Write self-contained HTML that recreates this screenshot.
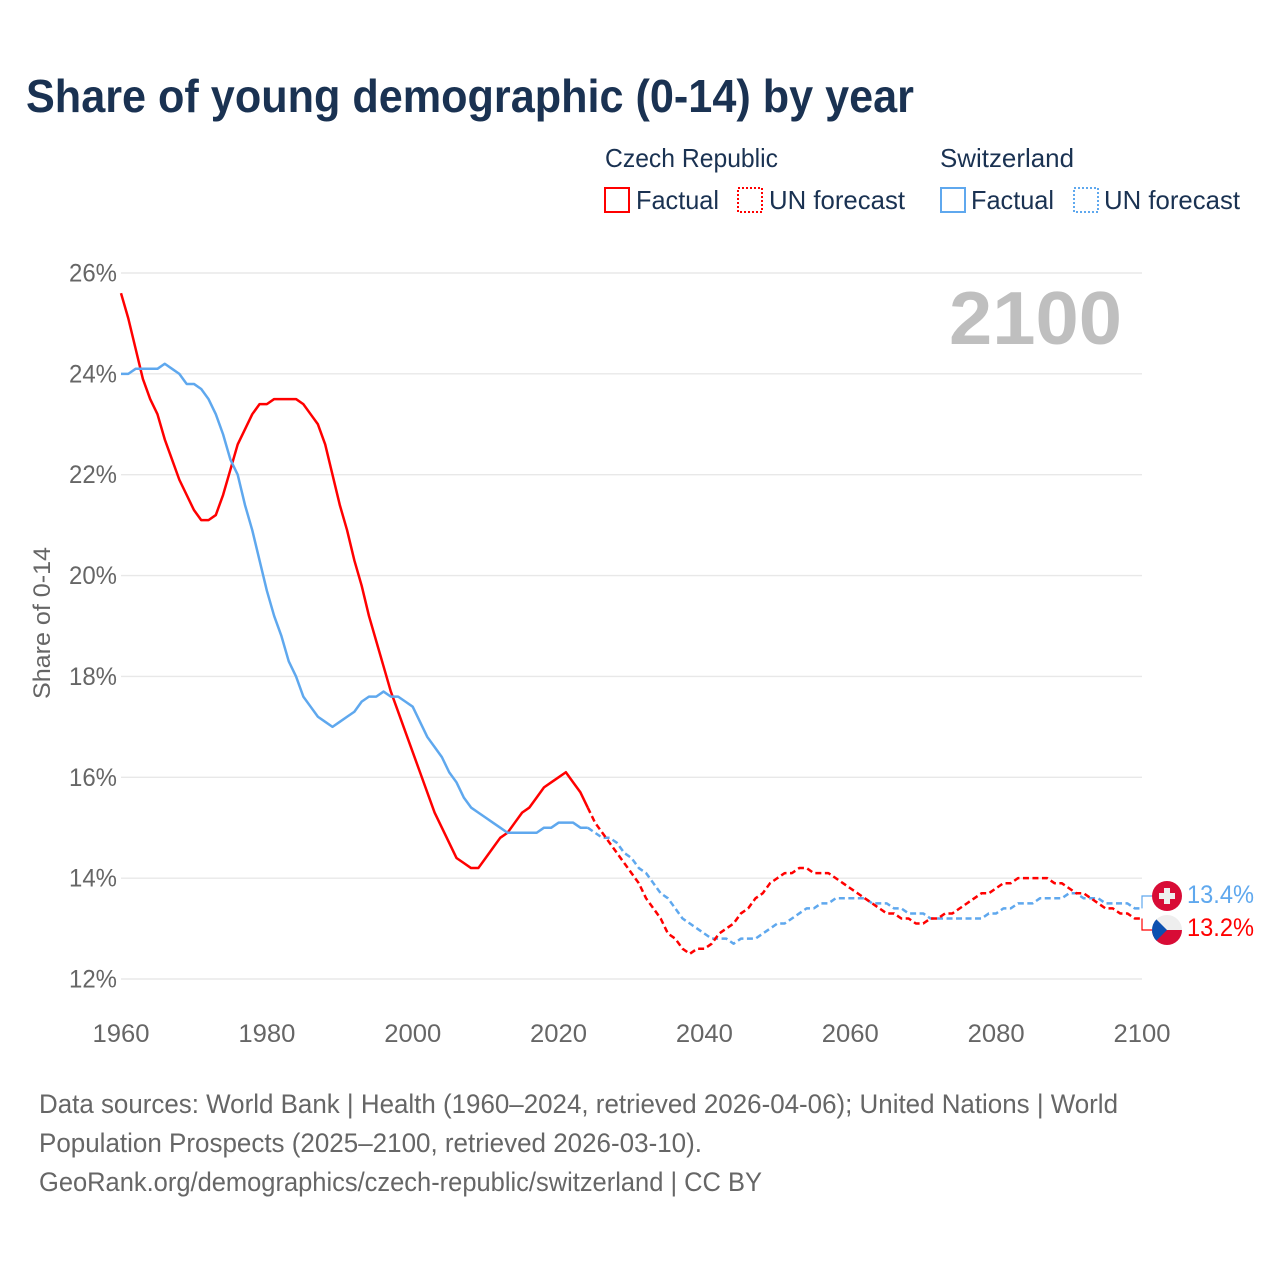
<!DOCTYPE html>
<html lang="en">
<head>
<meta charset="utf-8">
<title>Share of young demographic (0-14) by year</title>
<style>
html,body{margin:0;padding:0;background:#fff;}
svg{display:block;font-family:"Liberation Sans",Arial,sans-serif;}
</style>
</head>
<body>
<svg id="chart" width="1280" height="1280" viewBox="0 0 1280 1280" xmlns="http://www.w3.org/2000/svg">
  <rect width="1280" height="1280" fill="#ffffff"/>
  <defs>
    <clipPath id="flag-clip-cz"><circle cx="1167" cy="930" r="15"/></clipPath>
  </defs>

  <text x="26" y="112" font-size="46" font-weight="700" fill="#1a3252" textLength="888" lengthAdjust="spacingAndGlyphs">Share of young demographic (0-14) by year</text>

  <g fill="#1a3252" font-size="26">
    <text x="605" y="167" textLength="173" lengthAdjust="spacingAndGlyphs">Czech Republic</text>
    <text x="940" y="167" textLength="134" lengthAdjust="spacingAndGlyphs">Switzerland</text>
    <rect x="605" y="188" width="24" height="24" fill="none" stroke="#ff0000" stroke-width="2"/>
    <text x="636" y="209" textLength="83" lengthAdjust="spacingAndGlyphs">Factual</text>
    <rect x="738" y="188" width="24" height="24" fill="none" stroke="#ff0000" stroke-width="2" stroke-dasharray="2 2"/>
    <text x="769" y="209" textLength="136" lengthAdjust="spacingAndGlyphs">UN forecast</text>
    <rect x="941" y="188" width="24" height="24" fill="none" stroke="#5fa8ee" stroke-width="2"/>
    <text x="971" y="209" textLength="83" lengthAdjust="spacingAndGlyphs">Factual</text>
    <rect x="1074" y="188" width="24" height="24" fill="none" stroke="#5fa8ee" stroke-width="2" stroke-dasharray="2 2"/>
    <text x="1104" y="209" textLength="136" lengthAdjust="spacingAndGlyphs">UN forecast</text>
  </g>

  <g id="grid"></g>
  <g id="y-ticks"></g>
  <g id="x-ticks"></g>

  <text transform="translate(50,623) rotate(-90)" text-anchor="middle" font-size="24" fill="#666666" textLength="152" lengthAdjust="spacingAndGlyphs">Share of 0-14</text>

  <text id="year-label" x="949" y="344" font-size="75" font-weight="700" fill="#bfbfbf" textLength="173" lengthAdjust="spacingAndGlyphs">2100</text>

  <g id="series" fill="none" stroke-width="2.5" stroke-linejoin="round"></g>
  <g id="end-labels"></g>

  <g>
    <circle cx="1167" cy="896" r="15" fill="#d80c36"/>
    <rect x="1159" y="893" width="16" height="6" fill="#eeeeee"/>
    <rect x="1164" y="888" width="6" height="16" fill="#eeeeee"/>
  </g>
  <g clip-path="url(#flag-clip-cz)">
    <rect x="1152" y="915" width="30" height="15" fill="#eeeeee"/>
    <rect x="1152" y="930" width="30" height="15" fill="#d80c36"/>
    <polygon points="1152,915 1167,930 1152,945" fill="#0c50b0"/>
  </g>

  <g font-size="26.5" fill="#666666">
    <text x="39" y="1113" textLength="1079" lengthAdjust="spacingAndGlyphs">Data sources: World Bank | Health (1960–2024, retrieved 2026-04-06); United Nations | World</text>
    <text x="39" y="1152" textLength="663" lengthAdjust="spacingAndGlyphs">Population Prospects (2025–2100, retrieved 2026-03-10).</text>
    <text x="39" y="1191" textLength="723" lengthAdjust="spacingAndGlyphs">GeoRank.org/demographics/czech-republic/switzerland | CC BY</text>
  </g>
</svg>

<script>
const yTickValues = [12, 14, 16, 18, 20, 22, 24, 26];
const yTickLabels = ["12%", "14%", "16%", "18%", "20%", "22%", "24%", "26%"];
const xTickValues = [1960, 1980, 2000, 2020, 2040, 2060, 2080, 2100];
const xTickLabels = ["1960", "1980", "2000", "2020", "2040", "2060", "2080", "2100"];

const factualStartYear = 1960;
const forecastStartYear = 2024;

const czechFactual = [
  25.6,25.1,24.5,23.9,23.5,23.2,22.7,22.3,21.9,21.6,
  21.3,21.1,21.1,21.2,21.6,22.1,22.6,22.9,23.2,23.4,
  23.4,23.5,23.5,23.5,23.5,23.4,23.2,23.0,22.6,22.0,
  21.4,20.9,20.3,19.8,19.2,18.7,18.2,17.7,17.3,16.9,
  16.5,16.1,15.7,15.3,15.0,14.7,14.4,14.3,14.2,14.2,
  14.4,14.6,14.8,14.9,15.1,15.3,15.4,15.6,15.8,15.9,
  16.0,16.1,15.9,15.7,15.4
];
const swissFactual = [
  24.0,24.0,24.1,24.1,24.1,24.1,24.2,24.1,24.0,23.8,
  23.8,23.7,23.5,23.2,22.8,22.3,22.0,21.4,20.9,20.3,
  19.7,19.2,18.8,18.3,18.0,17.6,17.4,17.2,17.1,17.0,
  17.1,17.2,17.3,17.5,17.6,17.6,17.7,17.6,17.6,17.5,
  17.4,17.1,16.8,16.6,16.4,16.1,15.9,15.6,15.4,15.3,
  15.2,15.1,15.0,14.9,14.9,14.9,14.9,14.9,15.0,15.0,
  15.1,15.1,15.1,15.0,15.0
];
const czechForecast = [
  15.4,15.1,14.9,14.7,14.5,14.3,14.1,13.9,13.6,13.4,
  13.2,12.9,12.8,12.6,12.5,12.6,12.6,12.7,12.9,13.0,
  13.1,13.3,13.4,13.6,13.7,13.9,14.0,14.1,14.1,14.2,
  14.2,14.1,14.1,14.1,14.0,13.9,13.8,13.7,13.6,13.5,
  13.4,13.3,13.3,13.2,13.2,13.1,13.1,13.2,13.2,13.3,
  13.3,13.4,13.5,13.6,13.7,13.7,13.8,13.9,13.9,14.0,
  14.0,14.0,14.0,14.0,13.9,13.9,13.8,13.7,13.7,13.6,
  13.5,13.4,13.4,13.3,13.3,13.2,13.2
];
const swissForecast = [
  15.0,14.9,14.8,14.8,14.7,14.5,14.4,14.2,14.1,13.9,
  13.7,13.6,13.4,13.2,13.1,13.0,12.9,12.8,12.8,12.8,
  12.7,12.8,12.8,12.8,12.9,13.0,13.1,13.1,13.2,13.3,
  13.4,13.4,13.5,13.5,13.6,13.6,13.6,13.6,13.6,13.5,
  13.5,13.5,13.4,13.4,13.3,13.3,13.3,13.2,13.2,13.2,
  13.2,13.2,13.2,13.2,13.2,13.3,13.3,13.4,13.4,13.5,
  13.5,13.5,13.6,13.6,13.6,13.6,13.7,13.7,13.6,13.6,
  13.6,13.5,13.5,13.5,13.5,13.4,13.4
];

const SVG_NS = "http://www.w3.org/2000/svg";
const plotLeft = 121, plotRight = 1142, plotTop = 273, plotBottom = 979;
const colorCzech = "#ff0000", colorSwiss = "#5fa8ee";

function xScale(year) {
  return plotLeft + (year - 1960) / (2100 - 1960) * (plotRight - plotLeft);
}
function yScale(value) {
  return plotBottom - (value - 12) / (26 - 12) * (plotBottom - plotTop);
}
function linePath(values, startYear) {
  return values.map(function (v, i) {
    return (i ? "L" : "M") + xScale(startYear + i).toFixed(2) + " " + yScale(v).toFixed(2);
  }).join("");
}
function make(tag, parentId, attrs, text) {
  const el = document.createElementNS(SVG_NS, tag);
  Object.keys(attrs).forEach(function (k) { el.setAttribute(k, attrs[k]); });
  if (text !== undefined) el.textContent = text;
  document.getElementById(parentId).appendChild(el);
  return el;
}

yTickValues.forEach(function (v, i) {
  const line = make("line", "grid", { x1: plotLeft, x2: plotRight, y1: yScale(v), y2: yScale(v), stroke: "#e8e8e8", "stroke-width": 1.4 });
  
  
  const label = make("text", "y-ticks", { x: 69, y: yScale(v) + 8.5, "font-size": 25, fill: "#666666", textLength: 48, lengthAdjust: "spacingAndGlyphs" }, yTickLabels[i]);
  
  
});

xTickValues.forEach(function (year, i) {
  const label = make("text", "x-ticks", { x: xScale(year) - 28.5, y: 1042, "font-size": 25, fill: "#666666", textLength: 57, lengthAdjust: "spacingAndGlyphs" }, xTickLabels[i]);
  
  
});

const czechFactualLine = make("path", "series", { d: linePath(czechFactual, factualStartYear), stroke: colorCzech });



const swissFactualLine = make("path", "series", { d: linePath(swissFactual, factualStartYear), stroke: colorSwiss });



const swissForecastLine = make("path", "series", { d: linePath(swissForecast, forecastStartYear), stroke: colorSwiss, "stroke-dasharray": "6 3.5" });



const czechForecastLine = make("path", "series", { d: linePath(czechForecast, forecastStartYear), stroke: colorCzech, "stroke-dasharray": "6 3.5" });



const swissLast = swissForecast[swissForecast.length - 1];
const czechLast = czechForecast[czechForecast.length - 1];

const swissConnector = make("path", "end-labels", { d: "M" + plotRight + " " + yScale(swissLast) + "V896H1153", fill: "none", stroke: colorSwiss, "stroke-width": 1.2 });



const czechConnector = make("path", "end-labels", { d: "M" + plotRight + " " + yScale(czechLast) + "V930H1153", fill: "none", stroke: colorCzech, "stroke-width": 1.2 });



const swissEnd = make("text", "end-labels", { x: 1187, y: 903, "font-size": 25, fill: colorSwiss, textLength: 67, lengthAdjust: "spacingAndGlyphs" }, swissLast.toFixed(1) + "%");



const czechEnd = make("text", "end-labels", { x: 1187, y: 936, "font-size": 25, fill: colorCzech, textLength: 67, lengthAdjust: "spacingAndGlyphs" }, czechLast.toFixed(1) + "%");


</script>
</body>
</html>
